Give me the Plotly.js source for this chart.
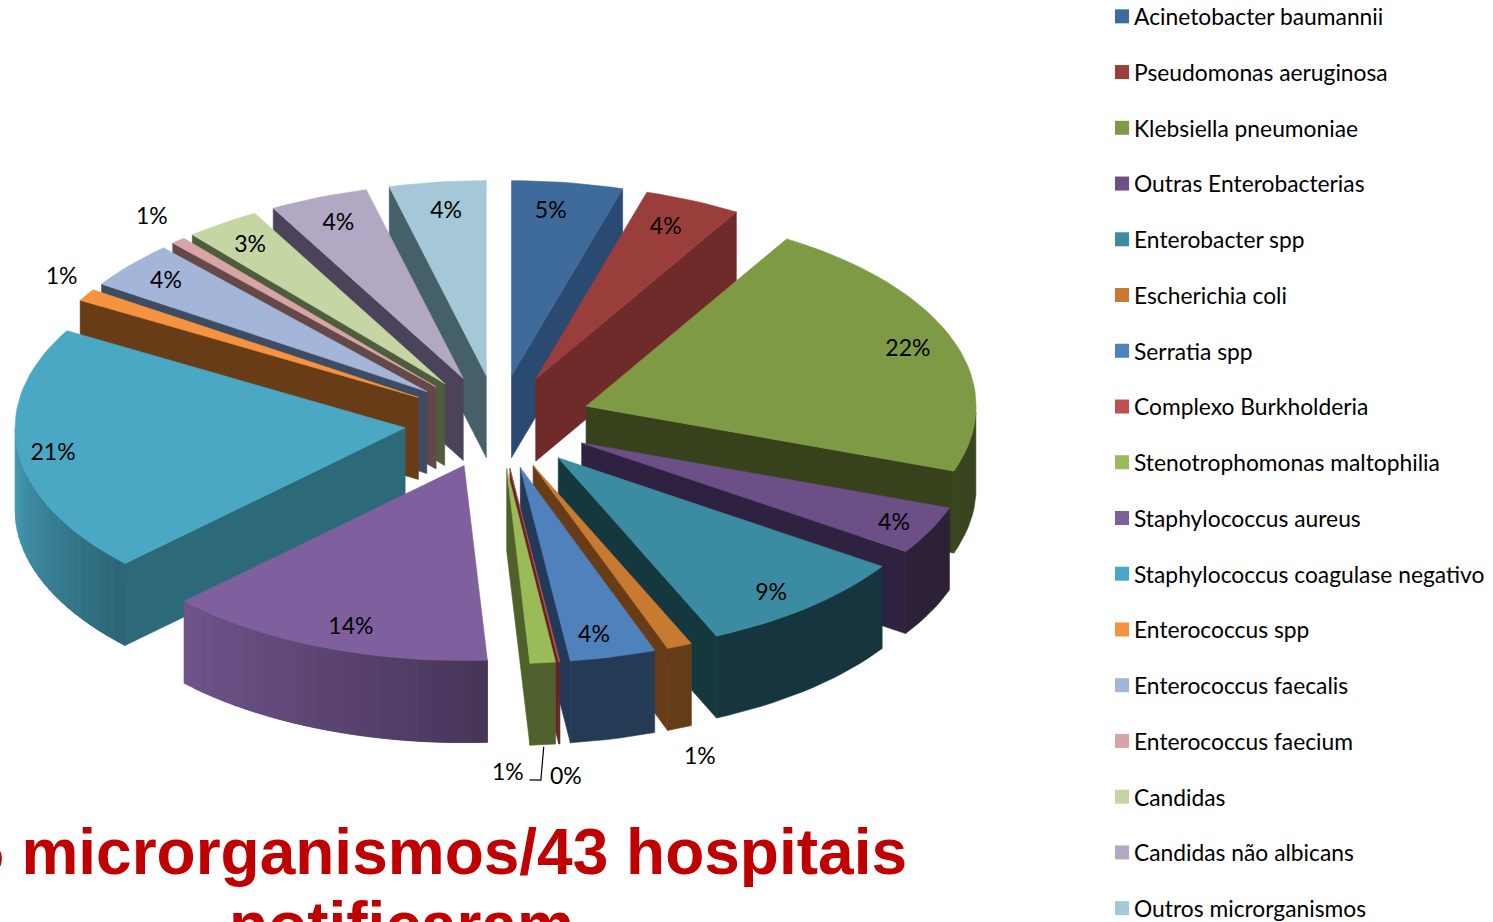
<!DOCTYPE html>
<html><head><meta charset="utf-8">
<script src="https://cdn.plot.ly/plotly-3.0.1.min.js"></script>
<style>html,body{margin:0;padding:0;background:#fff;overflow:hidden}#chart{width:1493px;height:922px}</style>
</head><body><div id="chart"></div>
<script>
const categories = ["Acinetobacter baumannii","Pseudomonas aeruginosa","Klebsiella pneumoniae","Outras Enterobacterias","Enterobacter spp","Escherichia coli","Serratia spp","Complexo Burkholderia","Stenotrophomonas maltophilia","Staphylococcus aureus","Staphylococcus coagulase negativo","Enterococcus spp","Enterococcus faecalis","Enterococcus faecium","Candidas","Candidas não albicans","Outros microrganismos"];
const values = [4.6,4.0,21.8,4.0,8.95,1.05,3.55,0.05,1.05,13.7,20.55,1.0,3.9,0.6,3.1,4.1,4.0];
const valueLabels = ["5%","4%","22%","4%","9%","1%","4%","0%","1%","14%","21%","1%","4%","1%","3%","4%","4%"];
const topColors = ["#3F6A9C","#9A3E3C","#7F9A45","#6C4F86","#3B8BA2","#C87A30","#4F81BD","#C0504D","#9BBB59","#7F5F9E","#4AA8C4","#F59340","#A3B5D8","#D8A4A8","#C6D5A4","#B2A8C4","#A5C8D8"];
const sideColors = ["#2B4A72","#6E2B29","#37421C","#2E2240","#15383F","#683C17","#23395A","#632523","#4F6128","#3F3151","#2C6A7A","#683C17","#3E4C63","#654848","#4E5D3E","#4B4359","#46606A"];
const rimShade = [[.5,.5],[.6,.6],[.45,.45],[.42,.42],[.38,.38],[.5,.5],[.45,.45],[.5,.5],[.52,.52],[.56,.88],[.6,.95],[.5,.5],[.5,.5],[.5,.5],[.5,.5],[.5,.5],[.5,.5]];
const labelRadius = [1.095,1.091,1.105,1.126,1.113,1.788,1.114,1.823,1.795,1.110,1.137,1.334,1.112,1.372,1.108,1.103,1.095];
const labelAngle = [7.0,22.9,69.9,117.1,141.6,163.4,167.4,174.6,179.2,199.6,262.2,304.1,310.9,320.3,325.5,338.5,353.1];
const leaderRadius = [1.66,1.829,1.827];
const leaderAngle = [176,176.6,177.5];

const cx=498, cy=422, rx=390, ry=195, depth=82, pull=0.24, labelRx=395, labelCy=424;
const rad=d=>d*Math.PI/180;
const px=(ox,oy,r,a)=>[ox+rx*r*Math.sin(rad(a)), oy-ry*r*Math.cos(rad(a))];
const lpx=(r,a)=>[cx+labelRx*r*Math.sin(rad(a)), labelCy-ry*r*Math.cos(rad(a))];
const hex=c=>[1,3,5].map(i=>parseInt(c.substr(i,2),16));
const shade=(c,f)=>{const v=hex(c).map(n=>Math.min(255,Math.round(n*f)));return `rgb(${v.join(",")})`;};
const poly=(pts,color)=>({type:"scatter",mode:"lines",x:pts.map(p=>p[0]).concat(pts[0][0]),y:pts.map(p=>p[1]).concat(pts[0][1]),
  fill:"toself",fillcolor:color,line:{color:color,width:0.6},hoverinfo:"skip",showlegend:false});
const total=values.reduce((a,b)=>a+b,0);
let acc=0;
const slices=values.map((v,i)=>{const s=acc/total*360;acc+=v;const e=acc/total*360;return {i,s,e,m:(s+e)/2};});
const order=[...slices].sort((a,b)=>Math.cos(rad(b.m))-Math.cos(rad(a.m)));
const traces=[];
order.forEach(sl=>{
  const {i,s,e,m}=sl;
  const [ax,ay]=px(cx,cy,pull,m);
  const step=2, n=Math.max(1,Math.ceil((e-s)/step));
  const arc=[];for(let k=0;k<=n;k++){arc.push(px(ax,ay,1,s+(e-s)*k/n));}
  const wall=(p,q,col)=>traces.push(poly([p,q,[q[0],q[1]+depth],[p[0],p[1]+depth]],col));
  const first=arc[0], last=arc[n];
  if(first[0]<ax) wall([ax,ay],first,sideColors[i]);
  if(last[0]>ax) wall([ax,ay],last,sideColors[i]);
  const seen=[];for(let k=0;k<=n;k++){const a=s+(e-s)*k/n;if(Math.cos(rad(a))<=0)seen.push(k);}
  const [f0,f1]=rimShade[i];
  if(seen.length>1){
    if(f0===f1){
      const top=seen.map(k=>arc[k]);
      const bottom=seen.slice().reverse().map(k=>[arc[k][0],arc[k][1]+depth]);
      traces.push(poly(top.concat(bottom),shade(topColors[i],f0)));
    } else {
      const bands=seen.length-1;
      for(let b=bands-1;b>=0;b--){
        const k0=seen[Math.max(0,b-1)],k1=seen[b+1];
        const seg=[];for(let k=k0;k<=k1;k++)seg.push(arc[k]);
        const bottom=seg.slice().reverse().map(p=>[p[0],p[1]+depth]);
        traces.push(poly(seg.concat(bottom),shade(topColors[i],f0+(f1-f0)*(b+.5)/bands)));
      }
    }
  }
  traces.push(poly([[ax,ay],...arc],topColors[i]));
});
categories.forEach((c,i)=>traces.push({type:"scatter",mode:"markers",x:[null],y:[null],name:c,legendgroup:c,
  marker:{symbol:"square",size:14,color:topColors[i]},hoverinfo:"skip"}));
const lead=leaderRadius.map((r,k)=>lpx(r,leaderAngle[k]));
traces.push({type:"scatter",mode:"lines",x:lead.map(p=>p[0]),y:lead.map(p=>p[1]),line:{color:"#000",width:1.2},showlegend:false,hoverinfo:"skip"});
const lab=labelRadius.map((r,k)=>lpx(r,labelAngle[k]));
traces.push({type:"scatter",mode:"text",x:lab.map(p=>p[0]),y:lab.map(p=>p[1]),text:valueLabels,textposition:"middle center",
  textfont:{family:"Lato, sans-serif",size:23,color:"#000"},showlegend:false,hoverinfo:"skip"});

const layout={width:1493,height:922,margin:{l:0,r:0,t:0,b:0,autoexpand:false},paper_bgcolor:"#fff",plot_bgcolor:"#fff",
  xaxis:{range:[0,1493],visible:false,fixedrange:true},
  yaxis:{range:[922,0],visible:false,fixedrange:true},
  showlegend:true,
  legend:{x:1094/1493,xanchor:"left",y:1+5/922,yanchor:"top",bgcolor:"rgba(0,0,0,0)",tracegroupgap:23.1,maxheight:2000,
    font:{family:"Lato, sans-serif",size:22.8,color:"#000"},itemclick:false,itemdoubleclick:false},
  annotations:[
    {xref:"paper",yref:"paper",x:909/1493,y:1-852/922,xanchor:"right",yanchor:"middle",showarrow:false,text:"5 microrganismos/43 hospitais",
     font:{family:"Liberation Sans, Arial, sans-serif",size:64,color:"#C00000",weight:700}},
    {xref:"paper",yref:"paper",x:401/1493,y:1-925/922,xanchor:"center",yanchor:"middle",showarrow:false,text:"notificaram",
     font:{family:"Liberation Sans, Arial, sans-serif",size:64,color:"#C00000",weight:700}}
  ]};
Plotly.newPlot("chart",traces,layout,{displayModeBar:false,staticPlot:true}).then(()=>{
  document.querySelectorAll(".legendpoints").forEach(g=>g.setAttribute("transform","translate(8,0)"));
});
</script></body></html>
